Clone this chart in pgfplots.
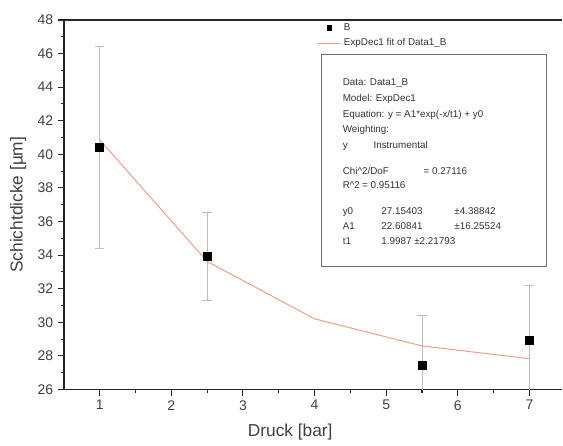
\documentclass[border=0pt]{standalone}
\usepackage{fontspec}
\setmainfont{Liberation Sans}
\usepackage{pgfplots}
\pgfplotsset{compat=1.18}

\definecolor{errGray}{RGB}{200,186,186}
\definecolor{fitRed}{RGB}{236,158,140}
\definecolor{boxGray}{RGB}{110,110,110}

% data: pressure [bar], thickness [um], error
\pgfplotstableread{
x     y      ey
1.0   40.40  6.00
2.5   33.93  2.60
5.5   27.43  3.00
7.0   28.92  3.30
}\messdaten

% ExpDec1 fit, as drawn
\pgfplotstableread{
x     y
1.0   40.862
2.5   33.626
4.0   30.210
5.5   28.597
7.0   27.835
}\fitdaten

% one line of the fit report
\newcommand{\rep}[3]{\node[anchor=west,inner sep=0pt,text height=1.6ex,text depth=0.3ex,font=\fontsize{7.4}{8.5}\selectfont,text=black!80] at (axis cs:#1,#2) {#3};}

\begin{document}
\begin{tikzpicture}
\begin{axis}[
    width=374.25pt,
    height=277.5pt,
    scale only axis,
    xmin=0.5, xmax=7.46,
    ymin=26, ymax=48,
    xtick={1,2,...,7},
    ytick={26,28,...,48},
    minor x tick num=1,
    minor y tick num=1,
    tick align=outside,
    xtick pos=bottom,
    ytick pos=left,
    major tick length=4.5pt,
    minor tick length=2.5pt,
    axis x line*=bottom,
    axis y line*=left,
    axis line style={-, line width=1pt, black!85},
    every tick/.style={black!85, line width=0.8pt},
    /pgf/number format/assume math mode=true,
    ticklabel style={font=\fontsize{10.5}{12}\selectfont, text=black!75},
    xlabel={Druck [bar]},
    ylabel={Schichtdicke [µm]},
    label style={font=\fontsize{13}{15}\selectfont, text=black!75},
    xlabel style={at={(axis description cs:0.454,-0.115)}, anchor=center},
    ylabel style={at={(axis description cs:-0.092,0.5)}, anchor=center},
    legend style={
        at={(axis cs:4.02,48.05)}, anchor=north west,
        draw=none, fill=none,
        font=\fontsize{7.4}{8.5}\selectfont,
        text=black!80,
        row sep=1pt, inner sep=1pt,
        legend cell align=left
    },
    clip=true
]

\addplot[
    only marks, mark=square*, mark size=3pt, black,
    legend image code/.code={\draw[black] plot[mark=square*, mark size=1.6pt] coordinates {(0.3cm,0cm)};},
    error bars/.cd,
        y dir=both, y explicit,
        error bar style={errGray, line width=0.7pt},
        error mark options={errGray, rotate=90, mark size=3.5pt, line width=0.7pt}
] table[x=x, y=y, y error=ey] {\messdaten};
\addlegendentry{B}

\addplot[fitRed, line width=0.75pt, mark=none] table[x=x, y=y] {\fitdaten};
\addlegendentry{ExpDec1 fit of Data1\_B}

\coordinate (ecklo) at (rel axis cs:0,1);
\coordinate (eckro) at (rel axis cs:1,1);
\coordinate (eckru) at (rel axis cs:0,0);

% fit report box
\draw[boxGray, line width=0.8pt] (axis cs:4.10,45.92) rectangle (axis cs:7.24,33.32);
\rep{4.39}{44.37}{Data: Data1\_B}
\rep{4.39}{43.42}{Model: ExpDec1}
\rep{4.39}{42.47}{Equation: y = A1*exp(-x/t1) + y0}
\rep{4.39}{41.58}{Weighting:}
\rep{4.39}{40.63}{y}
\rep{4.82}{40.63}{Instrumental}
\rep{4.39}{39.08}{Chi\textasciicircum 2/DoF}
\rep{5.52}{39.08}{= 0.27116}
\rep{4.39}{38.25}{R\textasciicircum 2}
\rep{4.66}{38.25}{= 0.95116}
\rep{4.39}{36.70}{y0}
\rep{4.93}{36.70}{27.15403}
\rep{5.95}{36.70}{±4.38842}
\rep{4.39}{35.81}{A1}
\rep{4.93}{35.81}{22.60841}
\rep{5.95}{35.81}{±16.25524}
\rep{4.39}{34.92}{t1}
\rep{4.93}{34.92}{1.9987 ±2.21793}

\end{axis}
% top frame line (right edge is cut off in the reference)
\draw[line width=1pt, black!85] (ecklo) -- (eckro);
% outer margins as in the reference
\path ([shift={(-48pt,15pt)}]ecklo) ([shift={(0pt,-42pt)}]eckru);
\end{tikzpicture}
\end{document}
